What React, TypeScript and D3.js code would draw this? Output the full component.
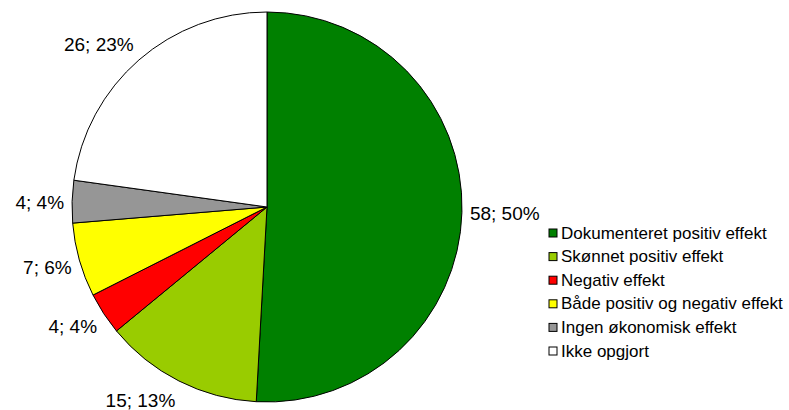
import React from "react";
import * as d3 from "d3";

const categories = [
  "Dokumenteret positiv effekt",
  "Skønnet positiv effekt",
  "Negativ effekt",
  "Både positiv og negativ effekt",
  "Ingen økonomisk effekt",
  "Ikke opgjort",
];
const values = [58, 15, 4, 7, 4, 26];
const labels = ["58; 50%", "15; 13%", "4; 4%", "7; 6%", "4; 4%", "26; 23%"];
const colors = ["#008000", "#99CC00", "#FF0000", "#FFFF00", "#969696", "#FFFFFF"];

const W = 789;
const H = 410;
const cx = 267;
const cy = 207;
const R = 195;

export default function App() {
  const pie = d3.pie<number>().sort(null).value((d) => d)(values);
  const arc = d3.arc<d3.PieArcDatum<number>>().innerRadius(0).outerRadius(R);
  const font = "'Liberation Sans', Arial, sans-serif";
  return (
    <svg
      width={W}
      height={H}
      style={{ position: "absolute", left: 0, top: 0, background: "#fff" }}
    >
      <g transform={`translate(${cx},${cy})`}>
        {pie.map((p, i) => (
          <path key={i} d={arc(p) || ""} fill={colors[i]} stroke="#000" strokeWidth={1} />
        ))}
        {pie.map((p, i) => {
          const a = (p.startAngle + p.endAngle) / 2;
          const s = Math.sin(a);
          const c = Math.cos(a);
          const px = (R + 8) * s;
          const py = Math.min(-(R + 8) * c - c * 14 + 1, H - cy - 10);
          return (
            <text
              key={i}
              x={px}
              y={py}
              textAnchor={s >= 0 ? "start" : "end"}
              dominantBaseline="central"
              fontFamily={font}
              fontSize={19}
              fill="#000"
            >
              {labels[i]}
            </text>
          );
        })}
      </g>
      <g>
        {categories.map((cat, i) => {
          const y = 233 + i * 23.6;
          return (
            <g key={i}>
              <rect x={549} y={y - 4} width={8} height={8} fill={colors[i]} stroke="#000" strokeWidth={1} />
              <text x={561} y={y} dominantBaseline="central" fontFamily={font} fontSize={17} fill="#000">
                {cat}
              </text>
            </g>
          );
        })}
      </g>
    </svg>
  );
}
